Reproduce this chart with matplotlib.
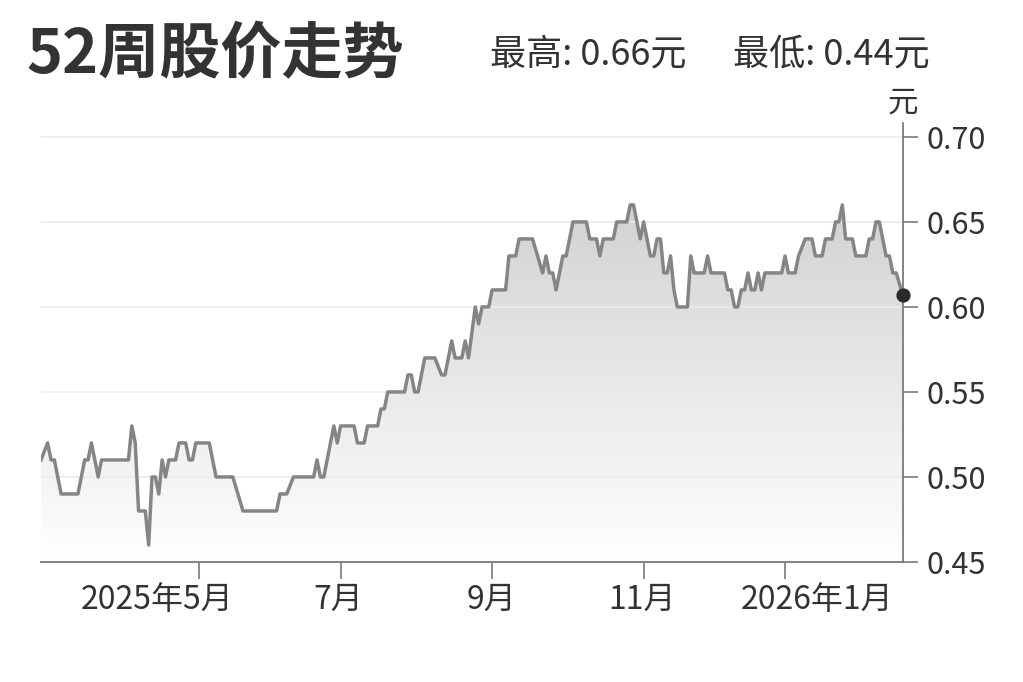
import numpy as np
import matplotlib.pyplot as plt
import matplotlib.transforms as mtransforms
from matplotlib.colors import LinearSegmentedColormap
from matplotlib.patches import Polygon

plt.rcParams['font.family'] = ['Noto Sans CJK SC', 'DejaVu Sans']

# 交易日序号 / 收盘价（元），只记录走势拐点
sessions = [0, 2, 3, 4, 6, 11, 13, 14, 15, 17, 18, 26, 27, 28, 29, 31, 32, 33, 34, 35,
            36, 37, 38, 40, 41, 43, 44, 45, 46, 50, 52, 57, 60, 70, 71, 73, 75, 81, 82, 83,
            84, 87, 88, 89, 93, 94, 96, 97, 100, 101, 102, 103, 108, 109, 110, 111, 112, 114, 117, 119,
            120, 122, 123, 125, 126, 127, 129, 130, 131, 133, 134, 138, 139, 141, 142, 146, 149, 150, 151, 152,
            153, 155, 156, 158, 162, 163, 165, 166, 167, 170, 171, 174, 175, 176, 177, 178, 179, 181, 182, 183,
            184, 185, 186, 187, 188, 189, 192, 193, 194, 197, 198, 199, 203, 204, 205, 206, 207, 208, 209, 210,
            211, 212, 213, 214, 215, 220, 221, 222, 224, 225, 227, 229, 230, 232, 233, 235, 236, 237, 238, 239,
            241, 242, 245, 246, 247, 248, 249, 251, 252, 253, 254, 256]
closes = [0.51, 0.52, 0.51, 0.51, 0.49, 0.49, 0.51, 0.51, 0.52, 0.50, 0.51, 0.51, 0.53, 0.52, 0.48, 0.48, 0.46, 0.50, 0.50, 0.49,
          0.51, 0.50, 0.51, 0.51, 0.52, 0.52, 0.51, 0.51, 0.52, 0.52, 0.50, 0.50, 0.48, 0.48, 0.49, 0.49, 0.50, 0.50, 0.51, 0.50,
          0.50, 0.53, 0.52, 0.53, 0.53, 0.52, 0.52, 0.53, 0.53, 0.54, 0.54, 0.55, 0.55, 0.56, 0.56, 0.55, 0.55, 0.57, 0.57, 0.56,
          0.56, 0.58, 0.57, 0.57, 0.58, 0.57, 0.60, 0.59, 0.60, 0.60, 0.61, 0.61, 0.63, 0.63, 0.64, 0.64, 0.62, 0.63, 0.62, 0.62,
          0.61, 0.63, 0.63, 0.65, 0.65, 0.64, 0.64, 0.63, 0.64, 0.64, 0.65, 0.65, 0.66, 0.66, 0.65, 0.64, 0.65, 0.63, 0.63, 0.64,
          0.64, 0.62, 0.62, 0.63, 0.61, 0.60, 0.60, 0.63, 0.62, 0.62, 0.63, 0.62, 0.62, 0.61, 0.61, 0.60, 0.60, 0.61, 0.61, 0.62,
          0.61, 0.61, 0.62, 0.61, 0.62, 0.62, 0.63, 0.62, 0.62, 0.63, 0.64, 0.64, 0.63, 0.63, 0.64, 0.64, 0.65, 0.65, 0.66, 0.64,
          0.64, 0.63, 0.63, 0.64, 0.64, 0.65, 0.65, 0.63, 0.63, 0.62, 0.62, 0.607]

month_pos = [47, 89, 134, 179, 221]
month_labels = ['2025年5月', '7月', '9月', '11月', '2026年1月']
label_shift = [-0.42, -0.02, -0.01, -0.02, 0.32]   # 英寸
y_ticks = [0.45, 0.50, 0.55, 0.60, 0.65, 0.70]
high_price = 0.66
low_price = 0.44

fig = plt.figure(figsize=(10.23, 6.82), dpi=100)
ax = fig.add_axes([0.040, 0.176, 0.8426, 0.6437])

# 渐变填充
cmap = LinearSegmentedColormap.from_list('fade', ['#ffffff', '#d2d2d2'])
grad = np.linspace(1, 0, 256).reshape(-1, 1)
im = ax.imshow(grad, extent=[sessions[0], sessions[-1], 0.45, max(closes)],
               aspect='auto', cmap=cmap, origin='upper', zorder=0)
verts = list(zip(sessions, closes)) + [(sessions[-1], 0.45), (sessions[0], 0.45)]
clip = Polygon(verts, closed=True, facecolor='none', edgecolor='none')
ax.add_patch(clip)
im.set_clip_path(clip)

ax.plot(sessions, closes, color='#858585', lw=2.5, zorder=3)
ax.scatter([sessions[-1]], [closes[-1]], s=85, color='#2a2a2a', zorder=4, clip_on=False)

ax.set_xlim(0, 256)
ax.set_ylim(0.45, 0.7082)
ax.set_yticks(y_ticks)
ax.set_yticklabels([f'{v:.2f}' for v in y_ticks])
ax.yaxis.tick_right()
ax.set_axisbelow(True)
ax.grid(axis='y', color='#ebebeb', lw=1.2)

# 月份刻度：标签单独放置（部分标签偏离刻度）
ax.set_xticks(month_pos)
ax.set_xticklabels([])
for pos, text, dx in zip(month_pos, month_labels, label_shift):
    off = mtransforms.ScaledTranslation(dx, -0.22, fig.dpi_scale_trans)
    ax.text(pos, 0, text, transform=ax.get_xaxis_transform() + off,
            ha='center', va='top', fontsize=23, color='#333333')

for side in ['left', 'top']:
    ax.spines[side].set_visible(False)
for side in ['right', 'bottom']:
    ax.spines[side].set_color('#7a7a7a')
    ax.spines[side].set_linewidth(1.3)

ax.tick_params(axis='y', length=11, width=1.2, color='#7a7a7a', labelsize=22, labelcolor='#333333', pad=6)
ax.tick_params(axis='x', length=12, width=1.2, color='#7a7a7a')

fig.text(0.8827, 0.849, '元', ha='center', va='center', fontsize=22, color='#333333')
fig.text(0.026, 0.918, '52周股价走势', ha='left', va='center', fontsize=44,
         fontweight='bold', color='#333333')
fig.text(0.479, 0.920, f'最高: {high_price:.2f}元', ha='left', va='center', fontsize=26, color='#333333')
fig.text(0.7165, 0.920, f'最低: {low_price:.2f}元', ha='left', va='center', fontsize=26, color='#333333')

fig.savefig('out.png', dpi=100, facecolor='white')
